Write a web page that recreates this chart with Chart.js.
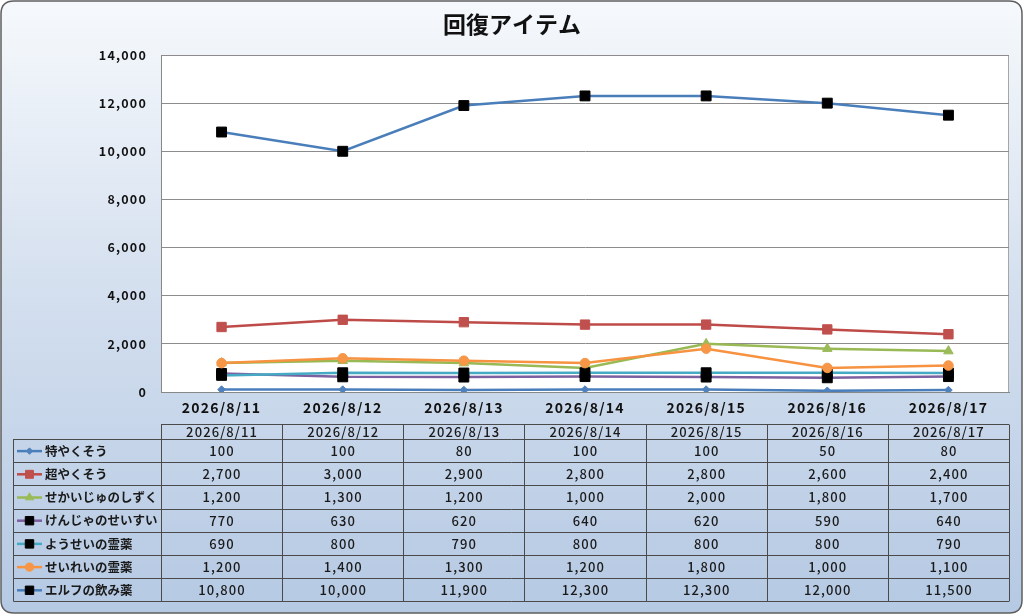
<!DOCTYPE html>
<html>
<head>
<meta charset="utf-8">
<script src="https://cdn.jsdelivr.net/npm/chart.js@4.4.1/dist/chart.umd.min.js"></script>
<style>
  html, body { margin: 0; padding: 0; background: #fff; }
  #wrap { width: 1024px; height: 616px; }
</style>
</head>
<body>
<div id="wrap"><canvas id="mycanvas" width="1024" height="616"></canvas></div>
<script>
var dates = ["2026/8/11", "2026/8/12", "2026/8/13", "2026/8/14", "2026/8/15", "2026/8/16", "2026/8/17"];
var names = ["特やくそう", "超やくそう", "せかいじゅのしずく", "けんじゃのせいすい", "ようせいの霊薬", "せいれいの霊薬", "エルフの飲み薬"];
var tokuYakusou = [100, 100, 80, 100, 100, 50, 80];
var chouYakusou = [2700, 3000, 2900, 2800, 2800, 2600, 2400];
var sekaiju = [1200, 1300, 1200, 1000, 2000, 1800, 1700];
var kenja = [770, 630, 620, 640, 620, 590, 640];
var yousei = [690, 800, 790, 800, 800, 800, 790];
var seirei = [1200, 1400, 1300, 1200, 1800, 1000, 1100];
var elf = [10800, 10000, 11900, 12300, 12300, 12000, 11500];
var yTicks = [0, 2000, 4000, 6000, 8000, 10000, 12000, 14000];

var series = [tokuYakusou, chouYakusou, sekaiju, kenja, yousei, seirei, elf];
var lineColors = ["#4A7EBB", "#BE4B48", "#98B954", "#7D60A0", "#46AAC5", "#F69240", "#4A7EBB"];
var markColors = ["#4F81BD", "#C0504D", "#9BBB59", "#000000", "#000000", "#F79646", "#000000"];
var markStyles = ["rectRot", "rect", "triangle", "rect", "rect", "circle", "rect"];
var markSizes = [3.8, 6.6, 5.5, 7, 7, 4.8, 7];

var FONT = "'Noto Sans CJK JP', 'Noto Sans', sans-serif";
function fmt(v) { return v.toLocaleString("en-US"); }

var datasets = [];
for (var i = 0; i < series.length; i++) {
  datasets.push({
    label: names[i],
    data: series[i],
    borderColor: lineColors[i],
    backgroundColor: markColors[i],
    pointBackgroundColor: markColors[i],
    pointBorderColor: markColors[i],
    pointBorderWidth: 1,
    pointStyle: markStyles[i],
    pointRadius: markSizes[i],
    borderWidth: 2.5,
    tension: 0,
    order: series.length - 1 - i
  });
}

function roundRect(ctx, x, y, w, h, r) {
  ctx.beginPath();
  ctx.moveTo(x + r, y);
  ctx.lineTo(x + w - r, y);
  ctx.quadraticCurveTo(x + w, y, x + w, y + r);
  ctx.lineTo(x + w, y + h - r);
  ctx.quadraticCurveTo(x + w, y + h, x + w - r, y + h);
  ctx.lineTo(x + r, y + h);
  ctx.quadraticCurveTo(x, y + h, x, y + h - r);
  ctx.lineTo(x, y + r);
  ctx.quadraticCurveTo(x, y, x + r, y);
  ctx.closePath();
}

// background, title, white plot area
var backdrop = {
  id: "backdrop",
  beforeDraw: function(chart) {
    var ctx = chart.ctx, a = chart.chartArea;
    ctx.save();
    var g = ctx.createLinearGradient(0, 0, 0, 616);
    g.addColorStop(0, "#f6f9fc");
    g.addColorStop(0.5, "#d2deee");
    g.addColorStop(1, "#b5c9e3");
    roundRect(ctx, 1, 1, 1021, 612, 13);
    ctx.fillStyle = g;
    ctx.fill();
    ctx.lineWidth = 1.5;
    ctx.strokeStyle = "#5f5f5f";
    ctx.stroke();

    ctx.fillStyle = "#ffffff";
    ctx.fillRect(a.left, a.top, a.right - a.left, a.bottom - a.top);
    ctx.strokeStyle = "#a6a6a6";
    ctx.lineWidth = 1;
    ctx.strokeRect(a.left + 0.5, a.top + 0.5, a.right - a.left - 1, a.bottom - a.top);

    ctx.fillStyle = "#111";
    ctx.font = "bold 23px " + FONT;
    ctx.textAlign = "center";
    ctx.textBaseline = "middle";
    ctx.fillText("回復アイテム", 512, 24);
    ctx.restore();
    // wider spacing for the axis tick labels that follow
    ctx.letterSpacing = "1.2px";
  },
  afterDraw: function(chart) {
    chart.ctx.letterSpacing = "0px";
  }
};

function drawKey(ctx, i, cx, cy) {
  ctx.save();
  ctx.strokeStyle = lineColors[i];
  ctx.lineWidth = 2.5;
  ctx.beginPath();
  ctx.moveTo(17, cy);
  ctx.lineTo(42, cy);
  ctx.stroke();
  ctx.fillStyle = markColors[i];
  ctx.strokeStyle = markColors[i];
  ctx.lineWidth = 1;
  Chart.helpers.drawPoint(ctx, { pointStyle: markStyles[i], rotation: 0, radius: markSizes[i] * 0.85, borderWidth: 1 }, cx, cy);
  ctx.restore();
}

// data table under the plot
var dataTable = {
  id: "dataTable",
  afterDraw: function(chart) {
    var ctx = chart.ctx, a = chart.chartArea, xs = chart.scales.x;
    var step = (a.right - a.left) / dates.length;
    var headTop = 424.5, headBot = 439, rowH = 23.2;
    var bottom = headBot + rowH * names.length;
    ctx.save();
    ctx.letterSpacing = "0px";
    ctx.strokeStyle = "#4a4a4a";
    ctx.lineWidth = 1;
    ctx.beginPath();
    // header row
    ctx.moveTo(a.left, headTop); ctx.lineTo(a.right, headTop);
    for (var c = 0; c <= dates.length; c++) {
      var x = Math.round(a.left + c * step) + 0.5;
      ctx.moveTo(x, headTop); ctx.lineTo(x, bottom);
    }
    ctx.moveTo(13.5, headBot); ctx.lineTo(13.5, bottom);
    for (var r = 0; r <= names.length; r++) {
      var y = Math.round(headBot + r * rowH) + 0.5;
      ctx.moveTo(13.5, y); ctx.lineTo(a.right, y);
    }
    ctx.stroke();

    ctx.fillStyle = "#1a1a1a";
    ctx.textBaseline = "middle";
    ctx.textAlign = "center";
    ctx.font = "500 13px " + FONT;
    ctx.letterSpacing = "1.1px";
    for (var d = 0; d < dates.length; d++) {
      ctx.fillText(dates[d], xs.getPixelForValue(d) + 0.5, (headTop + headBot) / 2 + 0.5);
    }
    for (var s = 0; s < names.length; s++) {
      var cy = headBot + rowH * (s + 0.5) + 0.5;
      ctx.textAlign = "center";
      ctx.font = "500 13px " + FONT;
      ctx.letterSpacing = "1.1px";
      for (var k = 0; k < dates.length; k++) {
        ctx.fillText(fmt(series[s][k]), xs.getPixelForValue(k) + 0.5, cy);
      }
      ctx.textAlign = "left";
      ctx.font = "bold 12.5px " + FONT;
      ctx.letterSpacing = "0px";
      ctx.fillText(names[s], 45, cy);
      drawKey(ctx, s, 29.5, cy);
    }
    ctx.restore();
  }
};

var ctx = document.getElementById("mycanvas");
var lineGraph = new Chart(ctx, {
  type: "line",
  data: { labels: dates, datasets: datasets },
  plugins: [backdrop, dataTable],
  options: {
    responsive: false,
    animation: false,
    devicePixelRatio: 1,
    layout: { padding: { top: 55, left: 0, right: 15, bottom: 193 } },
    plugins: {
      legend: { display: false },
      title: { display: false },
      tooltip: { enabled: false }
    },
    scales: {
      x: {
        offset: true,
        grid: { display: false, drawTicks: false },
        border: { display: true, color: "#888888", width: 1 },
        ticks: { color: "#111", font: { family: FONT, size: 14, weight: "bold" }, padding: 7, maxRotation: 0 },
        afterFit: function(scale) { scale.height = 31; }
      },
      y: {
        min: 0,
        max: 14000,
        afterBuildTicks: function(scale) {
          scale.ticks = yTicks.map(function(v) { return { value: v }; });
        },
        grid: { color: "#8c8c8c", lineWidth: 1, drawTicks: false },
        border: { display: true, color: "#888888", width: 1 },
        ticks: {
          color: "#111",
          font: { family: FONT, size: 12.5, weight: "bold" },
          padding: 14,
          callback: function(v) { return fmt(v); }
        },
        afterFit: function(scale) { scale.width = 161; }
      }
    }
  }
});
</script>
</body>
</html>
